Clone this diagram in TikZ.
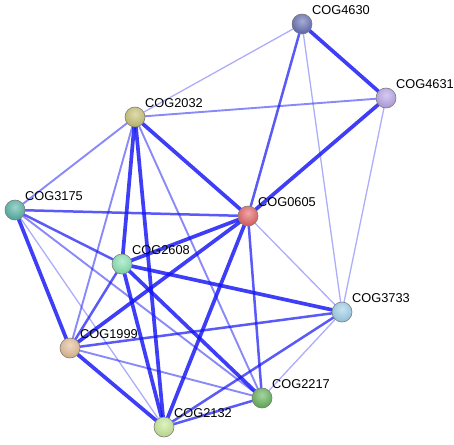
\documentclass[tikz,border=0pt]{standalone}
\usepackage{fontspec}
\setmainfont{Liberation Sans}
\definecolor{c4630}{RGB}{95,105,175}
\definecolor{c4631}{RGB}{180,160,230}
\definecolor{c2032}{RGB}{195,190,110}
\definecolor{c3175}{RGB}{80,175,160}
\definecolor{c0605}{RGB}{225,95,95}
\definecolor{c2608}{RGB}{130,225,175}
\definecolor{c3733}{RGB}{155,205,230}
\definecolor{c1999}{RGB}{225,185,145}
\definecolor{c2217}{RGB}{95,175,85}
\definecolor{c2132}{RGB}{195,230,145}
\definecolor{edgeblue}{RGB}{20,20,245}
\begin{document}
\begin{tikzpicture}[x=1pt,y=-1pt,
  prot/.style={circle,minimum size=20pt,inner sep=0pt},
  lab/.style={anchor=west,font=\fontsize{12.8}{13}\selectfont,inner sep=0pt,text=black},
  ea/.style={edgeblue,line width=1.3pt,draw opacity=0.35},
  eb/.style={edgeblue,line width=1.9pt,draw opacity=0.5},
  ec/.style={edgeblue,line width=2.5pt,draw opacity=0.7},
  ed/.style={edgeblue,line width=3.7pt,draw opacity=0.82}]
\useasboundingbox (0,0) rectangle (454,444);
% node positions
\coordinate (p4630) at (302,24);
\coordinate (p4631) at (386,98);
\coordinate (p2032) at (135,117);
\coordinate (p3175) at (15,210);
\coordinate (p0605) at (248,216);
\coordinate (p2608) at (122,264);
\coordinate (p3733) at (342,312);
\coordinate (p1999) at (70,348);
\coordinate (p2217) at (262,398);
\coordinate (p2132) at (164,427);
% edges
\draw[ed] (p4630) -- (p4631);
\draw[ea] (p4630) -- (p2032);
\draw[ec] (p4630) -- (p0605);
\draw[ea] (p4630) -- (p3733);
\draw[eb] (p4631) -- (p2032);
\draw[ed] (p4631) -- (p0605);
\draw[ea] (p4631) -- (p3733);
\draw[eb] (p2032) -- (p3175);
\draw[ed] (p2032) -- (p0605);
\draw[ed] (p2032) -- (p2608);
\draw[ed] (p2032) -- (p2132);
\draw[eb] (p2032) -- (p1999);
\draw[eb] (p2032) -- (p2217);
\draw[ec] (p3175) -- (p0605);
\draw[ec] (p3175) -- (p2608);
\draw[eb] (p3175) -- (p2217);
\draw[ea] (p3175) -- (p2132);
\draw[ed] (p3175) -- (p1999);
\draw[ed] (p0605) -- (p2608);
\draw[ed] (p0605) -- (p1999);
\draw[ed] (p0605) -- (p2132);
\draw[ec] (p0605) -- (p2217);
\draw[ea] (p0605) -- (p3733);
\draw[ed] (p2608) -- (p3733);
\draw[ec] (p2608) -- (p1999);
\draw[ed] (p2608) -- (p2132);
\draw[ed] (p2608) -- (p2217);
\draw[ec] (p1999) -- (p3733);
\draw[eb] (p1999) -- (p2217);
\draw[ed] (p1999) -- (p2132);
\draw[ec] (p2132) -- (p3733);
\draw[ec] (p2132) -- (p2217);
\draw[ea] (p2217) -- (p3733);
% proteins
\foreach \n in {4630,4631,2032,3175,0605,2608,3733,1999,2217,2132}{
  \node[prot,fill=c\n] (n\n) at (p\n) {};
  \begin{scope}
    \clip (n\n.center) circle (10pt);
    \shade[inner color=c\n!55!white, outer color=c\n!92!black]
      ([yshift=3pt]n\n.center) circle (13pt);
  \end{scope}
  \draw[black!50,line width=0.6pt] (n\n.center) circle (10pt);
  \node[lab] (t\n) at ([xshift=10pt,yshift=14pt]p\n) {COG\n};
}
\end{tikzpicture}
\end{document}
